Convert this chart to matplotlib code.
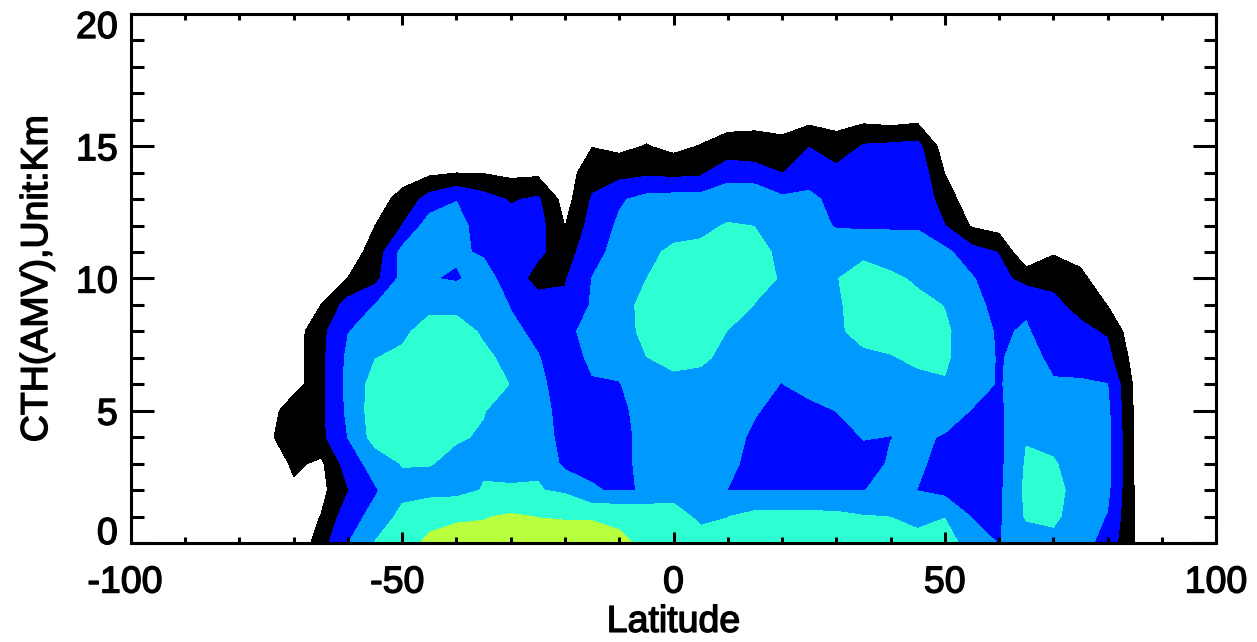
import matplotlib
matplotlib.use('Agg')
import matplotlib.pyplot as plt
import matplotlib.patheffects as pe
import numpy as np
from matplotlib.transforms import ScaledTranslation

plt.rcParams['font.family'] = ['Liberation Sans', 'DejaVu Sans']
plt.rcParams['axes.unicode_minus'] = False

# gridded AMV field: one profile per 5 deg latitude band, heights 0..17 km
heights = np.arange(0, 18)
lats = np.arange(-90, 91, 5)

lat_m75 = [0, 0, 0.1, 0.15, 0.7, 0.3]
lat_m70 = [0, 0.6, 0.8, 1.2, 1.8, 1.8, 0.5, 0.5, 0.5, 0.3]
lat_m65 = [1.6, 1.02, 0.7, 0.8, 1.75, 1.75, 1.75, 1.75, 1.7, 1.0, 0.5, 0.2]
lat_m60 = [2.98, 2.6, 1.95, 2.5, 3.02, 3.2, 3.25, 3.2, 2.97, 2.43, 1.02, 0.5, 0.2]
lat_m55 = [4.06, 3.3, 2.9, 3.4, 4.4, 4.5, 4.4, 3.98, 3.4, 3.02, 1.72, 1.4, 1.0, 0.6, 0.3]
lat_m50 = [4.6, 4.3, 3.7, 4.05, 4.5, 4.6, 4.5, 4.2, 3.8, 3.6, 3.3, 3.3, 2.02, 1.3, 0.6, 0.2]
lat_m45 = [5.2, 4.7, 3.7, 4.03, 4.6, 4.8, 4.8, 4.6, 4.4, 3.75, 3.05, 3.4, 3.5, 2.4, 0.8, 0.3]
lat_m40 = [5.3, 4.9, 3.7, 3.85, 4.05, 4.5, 4.6, 4.5, 4.3, 3.8, 2.9, 3.12, 3.3, 2.97, 0.98, 0.4]
lat_m35 = [5.3, 4.95, 4.05, 3.9, 3.95, 4.02, 4.3, 4.15, 3.9, 3.6, 3.35, 2.9, 2.6, 2.4, 0.95, 0.4]
lat_m30 = [5.4, 5.1, 4.2, 3.4, 3.6, 3.8, 3.98, 3.8, 3.2, 2.95, 2.6, 2.5, 2.4, 1.9, 0.75, 0.3]
lat_m25 = [5.4, 4.98, 4.05, 3.9, 3.6, 3.5, 3.3, 3.05, 2.8, 2.5, 1.6, 2.2, 2.4, 2.15, 0.8, 0.3]
lat_m20 = [5.3, 4.95, 3.85, 2.75, 2.6, 2.5, 2.4, 2.5, 2.85, 2.2, 1.92, 1.5, 0.98, 0.6, 0.5, 0.2]
lat_m15 = [5.3, 4.94, 3.02, 2.95, 2.6, 2.8, 2.9, 3.2, 3.2, 3.1, 3.02, 2.7, 2.4, 2.1, 1.6, 0.97, 0.4]
lat_m10 = [5.1, 4.9, 2.97, 2.7, 2.6, 2.7, 2.95, 3.35, 3.5, 3.6, 3.5, 3.3, 3.15, 2.88, 1.66, 0.76, 0.3]
lat_m05 = [4.9, 4.85, 3.02, 3.3, 3.4, 3.5, 3.6, 3.98, 4.3, 4.3, 3.99, 3.75, 3.5, 3.3, 1.8, 1.05, 0.5]
lat_000 = [4.6, 4.3, 3.7, 3.5, 3.5, 3.6, 3.8, 4.2, 4.5, 4.6, 4.5, 4.2, 3.6, 3.4, 1.7, 0.74, 0.3]
lat_p05 = [4.3, 3.85, 3.6, 3.5, 3.5, 3.6, 3.8, 4.1, 4.4, 4.6, 4.6, 4.3, 3.7, 3.4, 1.8, 1.05, 0.4]
lat_p10 = [4.4, 3.98, 2.98, 3.3, 3.5, 3.6, 3.7, 3.85, 3.98, 4.4, 4.6, 4.5, 4.1, 3.27, 2.82, 1.11, 0.9, 0.3]
lat_p15 = [4.5, 4.3, 2.97, 2.6, 2.75, 3.1, 3.3, 3.6, 3.8, 3.98, 4.2, 4.3, 3.98, 3.6, 2.55, 1.14, 0.9, 0.3]
lat_p20 = [4.5, 4.3, 2.97, 2.6, 2.5, 2.6, 2.97, 3.3, 3.6, 3.8, 3.95, 3.8, 3.5, 3.2, 1.98, 1.3, 0.6, 0.2]
lat_p25 = [4.5, 4.3, 2.97, 2.5, 2.3, 2.6, 3.5, 3.6, 3.7, 3.7, 3.7, 3.6, 3.5, 3.3, 2.4, 1.98, 0.75, 0.3]
lat_p30 = [4.5, 4.25, 2.97, 2.4, 2.5, 3.02, 3.3, 3.5, 3.85, 3.9, 3.98, 3.8, 2.9, 2.6, 2.4, 1.19, 0.85, 0.3]
lat_p35 = [4.4, 4.05, 2.97, 2.6, 3.05, 3.3, 3.5, 3.8, 4.3, 4.3, 4.2, 3.9, 2.85, 2.6, 2.5, 2.1, 0.8, 0.3]
lat_p40 = [4.4, 3.99, 3.3, 3.1, 2.98, 3.3, 3.6, 3.95, 4.3, 4.4, 4.2, 3.5, 2.9, 2.8, 2.7, 2.2, 0.66, 0.2]
lat_p45 = [4.3, 3.75, 2.98, 3.2, 3.2, 3.4, 3.8, 4.13, 4.3, 4.25, 3.85, 3.5, 2.9, 2.8, 2.7, 2.3, 0.8, 0.3]
lat_p50 = [4.3, 3.98, 2.7, 2.6, 2.9, 3.55, 3.95, 4.1, 4.15, 3.97, 3.6, 3.25, 2.02, 1.5, 0.98, 0.5, 0.2]
lat_p55 = [3.7, 2.95, 2.6, 2.5, 2.6, 2.95, 3.5, 3.6, 3.5, 3.4, 3.1, 2.4, 0.9, 0.4, 0.1]
lat_p60 = [2.95, 2.85, 2.8, 2.75, 2.75, 2.8, 2.9, 2.9, 2.87, 2.6, 2.3, 1.96, 0.6, 0.2]
lat_p65 = [3.5, 4.1, 4.2, 4.1, 3.95, 3.8, 3.6, 3.4, 3.1, 2.85, 1.67, 0.1]
lat_p70 = [3.7, 4.2, 4.4, 4.1, 3.7, 3.5, 3.1, 2.75, 2.5, 2.2, 1.77, 0.9, 0.3]
lat_p75 = [3.4, 3.5, 3.5, 3.5, 3.4, 3.3, 3.1, 2.65, 2.2, 1.73, 1.2, 0.72, 0.3]
lat_p80 = [2.6, 2.95, 3.2, 3.3, 3.3, 3.2, 3.02, 2.3, 1.9, 0.98, 0.5, 0.2]
lat_p85 = [0.98, 0.97, 0.95, 0.93, 0.9, 0.87, 0.83, 0.6, 0.3, 0.1]

profiles = [[], [], [],
            lat_m75, lat_m70, lat_m65, lat_m60, lat_m55, lat_m50, lat_m45,
            lat_m40, lat_m35, lat_m30, lat_m25, lat_m20, lat_m15, lat_m10,
            lat_m05, lat_000, lat_p05, lat_p10, lat_p15, lat_p20, lat_p25,
            lat_p30, lat_p35, lat_p40, lat_p45, lat_p50, lat_p55, lat_p60,
            lat_p65, lat_p70, lat_p75, lat_p80, lat_p85, []]

levels = [1, 2, 3, 4, 5, 6]
colors = ['#000000', '#0008FF', '#009AFF', '#2EFFD3', '#B8FF3E']

field = np.zeros((len(heights), len(lats)))
for j, p in enumerate(profiles):
    field[:len(p), j] = p

fig, ax = plt.subplots(figsize=(12.57, 6.42), dpi=100)
fig.subplots_adjust(left=0.1042, right=0.9674, bottom=0.1542, top=0.9782)

ax.contourf(lats, heights, field, levels=levels, colors=colors)

ax.set_xlim(-100, 100)
ax.set_ylim(0, 20)
ax.set_xticks([-100, -50, 0, 50, 100])
ax.set_xticks(np.arange(-90, 100, 10), minor=True)
ax.set_yticks([0, 5, 10, 15, 20])
ax.set_yticks(np.arange(0, 21, 1), minor=True)

for s in ax.spines.values():
    s.set_linewidth(2.2)
ax.tick_params(which='both', direction='in', top=True, right=True, width=2.2,
               labelsize=27)
ax.xaxis.set_tick_params(which='major', length=8, pad=15.5)
ax.xaxis.set_tick_params(which='minor', length=4)
ax.yaxis.set_tick_params(which='major', length=16.5, pad=9.5)
ax.yaxis.set_tick_params(which='minor', length=9)

ax.set_xlabel('Latitude', fontsize=27)
ax.set_ylabel('CTH(AMV),Unit:Km', fontsize=27)
ax.xaxis.set_label_coords(0.5, -0.115)
ax.yaxis.set_label_coords(-0.070, 0.5)

# heavier strokes for all axis text
heavy = [pe.withStroke(linewidth=1.0, foreground='black')]
for t in ax.get_xticklabels() + ax.get_yticklabels() + [ax.xaxis.label, ax.yaxis.label]:
    t.set_path_effects(heavy)

# keep the end labels of the height axis inside the frame, and hang the minus sign
def nudge(label, dx, dy):
    label.set_transform(label.get_transform() +
                        ScaledTranslation(dx / 100, dy / 100, fig.dpi_scale_trans))

yt = ax.yaxis.get_major_ticks()
nudge(yt[0].label1, 0, 13)
nudge(yt[-1].label1, 0, -10)
xt = ax.xaxis.get_major_ticks()
nudge(xt[0].label1, -6, 0)
nudge(xt[1].label1, -5, 0)

fig.savefig('out.png', dpi=100)
